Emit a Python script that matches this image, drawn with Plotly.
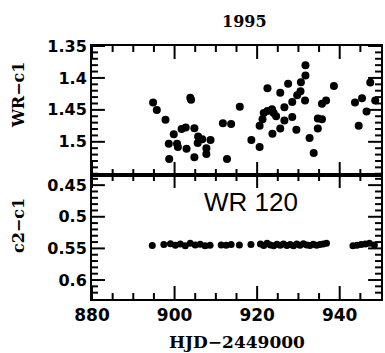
import plotly.graph_objects as go

# ---- data ----
top_x = [894.8, 895.7, 897.8, 899.8, 898.6, 898.7, 900.6, 900.8, 901.7, 902.7,
         902.9, 903.8, 904.0, 904.8, 904.8, 905.7, 905.6, 906.7, 907.7, 907.7,
         908.7, 911.7, 913.7, 912.7, 915.8, 918.6, 920.6, 920.6, 921.3, 921.6,
         922.5, 922.5, 923.6, 924.0, 924.6, 923.7, 925.6, 925.6, 926.6, 926.6,
         927.5, 928.5, 928.5, 929.5, 929.7, 930.5, 930.6, 931.7, 931.7, 931.6,
         932.7, 933.7, 934.7, 934.7, 935.7, 935.7, 936.7, 938.6, 943.7, 944.6,
         945.4, 946.5, 947.4, 948.6]
top_y = [1.4385, 1.450, 1.4656, 1.488, 1.503, 1.527, 1.503, 1.508, 1.480, 1.4776,
         1.511, 1.431, 1.434, 1.4786, 1.524, 1.4917, 1.502, 1.496, 1.510, 1.519,
         1.497, 1.471, 1.472, 1.527, 1.445, 1.497, 1.508, 1.475, 1.4646, 1.455,
         1.4516, 1.416, 1.449, 1.455, 1.460, 1.4875, 1.479, 1.423, 1.446, 1.4667,
         1.409, 1.4375, 1.461, 1.481, 1.427, 1.421, 1.4068, 1.396, 1.380, 1.4354,
         1.494, 1.5177, 1.479, 1.4635, 1.4646, 1.4406, 1.4354, 1.4125, 1.4385, 1.475,
         1.4318, 1.4526, 1.4073, 1.4354]

bot_x = [894.6, 897.4, 899.0, 900.2, 901.4, 902.6, 903.8, 905.0, 906.2, 907.4,
         908.6, 911.3, 912.5, 913.7, 915.7, 918.5, 920.8, 921.6, 922.4, 923.2,
         924.0, 924.8, 925.6, 926.4, 927.2, 928.0, 928.8, 929.6, 930.4, 931.2,
         932.0, 932.8, 933.6, 934.4, 935.2, 936.0, 936.8, 943.2, 944.2, 945.2,
         946.2, 947.2, 948.4]
bot_y = [0.5455, 0.5440, 0.5425, 0.5450, 0.5430, 0.5460, 0.5420, 0.5445, 0.5435, 0.5460,
         0.5450, 0.5445, 0.5450, 0.5440, 0.5445, 0.5440, 0.5430, 0.5455, 0.5420, 0.5445,
         0.5460, 0.5435, 0.5450, 0.5430, 0.5455, 0.5440, 0.5460, 0.5430, 0.5450, 0.5425,
         0.5445, 0.5455, 0.5435, 0.5450, 0.5440, 0.5430, 0.5420, 0.5460, 0.5450, 0.5440,
         0.5430, 0.5420, 0.5445]

x_ticks = [880, 900, 920, 940]
x_minor = [885, 890, 895, 905, 910, 915, 925, 930, 935, 945]
top_ticks = [1.35, 1.4, 1.45, 1.5]
top_tick_text = ["1.35", "1.4", "1.45", "1.5"]
top_minor = [1.36, 1.37, 1.38, 1.39, 1.41, 1.42, 1.43, 1.44, 1.46, 1.47, 1.48, 1.49,
             1.51, 1.52, 1.53, 1.54, 1.55]
bot_ticks = [0.45, 0.5, 0.55, 0.6]
bot_tick_text = ["0.45", "0.5", "0.55", "0.6"]
bot_minor = [0.44, 0.46, 0.47, 0.48, 0.49, 0.51, 0.52, 0.53, 0.54, 0.56, 0.57, 0.58,
             0.59, 0.61, 0.62]

x_range = [880, 950]
top_range = [1.552, 1.35]   # reversed (top value, bottom value swapped for plotly)
bot_range = [0.63, 0.434]

W, H = 385, 353
ML, MR, MT, MB = 92, 2, 46, 54
split = 0.49
plot_w = W - ML - MR
plot_h = H - MT - MB
h_bot = plot_h * split
h_top = plot_h * (1 - split)
MAJ, MIN = 13, 6

tick_font = dict(family="DejaVu Sans", size=16, color="black", weight="bold")
serif_bold = "DejaVu Serif"

fig = go.Figure()


def tick_segments(xr, yr, ph, xmaj, xmin, ymaj, ymin):
    """Inward tick marks on all four sides, converted from pixels to axis units."""
    xs, ys = [], []
    y_lo, y_hi = max(yr), min(yr)          # bottom edge value, top edge value (reversed axis)
    ky = (y_lo - y_hi) / ph                # axis units per pixel (y)
    kx = (xr[1] - xr[0]) / plot_w          # axis units per pixel (x)
    for vals, L in [(xmaj, MAJ), (xmin, MIN)]:
        for v in vals:
            xs += [v, v, None, v, v, None]
            ys += [y_lo, y_lo - L * ky, None, y_hi, y_hi + L * ky, None]
    for vals, L in [(ymaj, MAJ), (ymin, MIN)]:
        for v in vals:
            xs += [xr[0], xr[0] + L * kx, None, xr[1], xr[1] - L * kx, None]
            ys += [v, v, None, v, v, None]
    return xs, ys


tx, ty = tick_segments(x_range, bot_range, h_bot, x_ticks, x_minor, bot_ticks, bot_minor)
fig.add_trace(go.Scatter(x=tx, y=ty, mode="lines", xaxis="x", yaxis="y",
                         line=dict(color="black", width=2), hoverinfo="skip",
                         showlegend=False, cliponaxis=False))
tx, ty = tick_segments(x_range, top_range, h_top, x_ticks, x_minor, top_ticks, top_minor)
fig.add_trace(go.Scatter(x=tx, y=ty, mode="lines", xaxis="x2", yaxis="y2",
                         line=dict(color="black", width=2), hoverinfo="skip",
                         showlegend=False, cliponaxis=False))

fig.add_trace(go.Scatter(x=top_x, y=top_y, mode="markers", xaxis="x2", yaxis="y2",
                         marker=dict(size=8, color="black"), showlegend=False))
fig.add_trace(go.Scatter(x=bot_x, y=bot_y, mode="markers", xaxis="x", yaxis="y",
                         marker=dict(size=7, color="black"), showlegend=False))

axis_common = dict(showline=True, linecolor="black", linewidth=2, mirror=True,
                   ticks="", showgrid=False, zeroline=False)

fig.update_layout(
    width=W, height=H,
    margin=dict(l=ML, r=MR, t=MT, b=MB),
    paper_bgcolor="white", plot_bgcolor="white",
    xaxis=dict(**axis_common, range=x_range, anchor="y", tickvals=x_ticks,
               ticktext=[str(v) for v in x_ticks],
               tickfont=dict(family="DejaVu Sans", size=17, color="black", weight="bold")),
    xaxis2=dict(**axis_common, range=x_range, anchor="y2", tickvals=x_ticks,
                showticklabels=False),
    yaxis=dict(**axis_common, domain=[0, split], range=bot_range, anchor="x",
               tickvals=bot_ticks, ticktext=bot_tick_text, tickfont=tick_font),
    yaxis2=dict(**axis_common, domain=[split, 1], range=top_range, anchor="x2",
                tickvals=top_ticks, ticktext=top_tick_text, tickfont=tick_font),
    annotations=[
        dict(text="<b>1995</b>", x=0.526, y=1.095, xref="paper", yref="paper",
             xanchor="center", yanchor="middle", showarrow=False,
             font=dict(family=serif_bold, size=16, color="black")),
        dict(text="<b>WR−c1</b>", x=-0.256, y=0.806, xref="paper", yref="paper",
             xanchor="center", yanchor="middle", textangle=-90, showarrow=False,
             font=dict(family=serif_bold, size=16, color="black")),
        dict(text="<b>c2−c1</b>", x=-0.256, y=0.2885, xref="paper", yref="paper",
             xanchor="center", yanchor="middle", textangle=-90, showarrow=False,
             font=dict(family=serif_bold, size=16, color="black")),
        dict(text="<b>HJD−2449000</b>", x=0.5, y=-0.17, xref="paper", yref="paper",
             xanchor="center", yanchor="middle", showarrow=False,
             font=dict(family=serif_bold, size=17, color="black")),
        dict(text="WR 120", x=918.5, y=0.4766, xref="x", yref="y",
             xanchor="center", yanchor="middle", showarrow=False,
             font=dict(family="Liberation Sans", size=26, color="black")),
    ],
)

fig.write_html("out.html", config={"displayModeBar": False},
               post_script="document.body.style.margin='0';document.body.style.overflow='hidden';")
